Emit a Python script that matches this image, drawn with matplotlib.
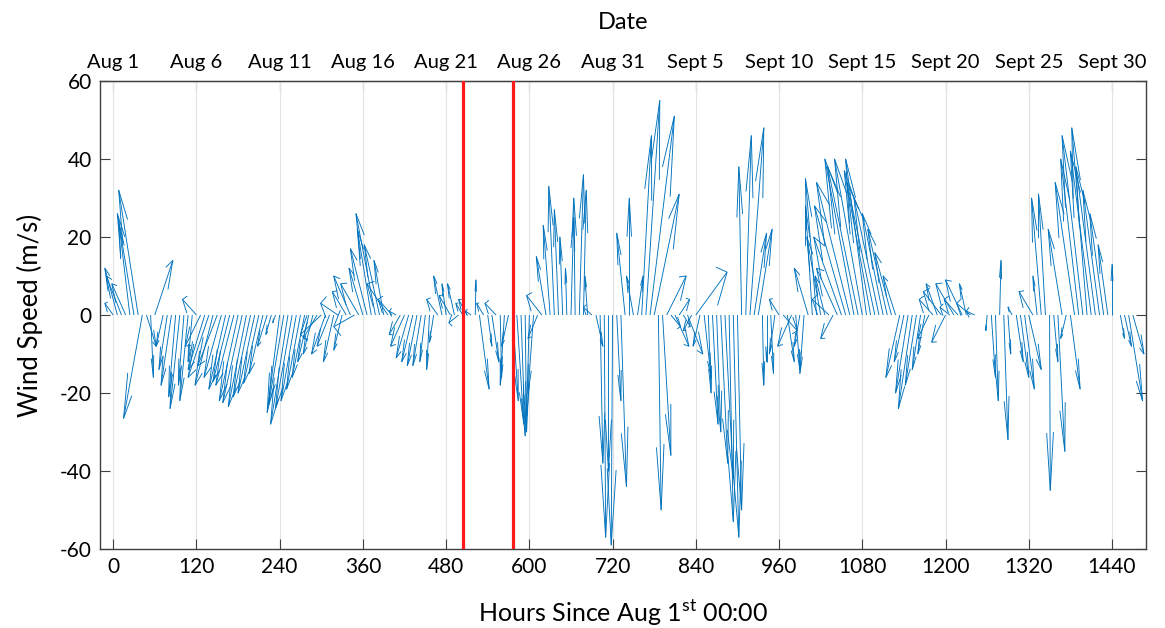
import numpy as np
import matplotlib
matplotlib.use("Agg")
import matplotlib.pyplot as plt
from matplotlib.collections import LineCollection

plt.rcParams['font.family'] = ['Lato', 'DejaVu Sans']
plt.rcParams['mathtext.fontset'] = 'custom'
plt.rcParams['mathtext.rm'] = 'Lato'
plt.rcParams['axes.unicode_minus'] = False

nan = np.nan

# wind observations every 6 hours since Aug 1 00:00
hours = np.arange(0, 1488, 6)

# u component (drawn as an hour offset) and v component (m/s)
u = [-12, -18, -22, -20, -16, -24, -28, -27, 14, 4,
     26, nan, -10, -12, -15, -10, -14, -8, -12, -6,
     -20, -22, -24, -30, -26, -28, -25, -24, -24, -26,
     -27, -28, -26, -25, -24, -22, -20, -14, -8, -4,
     -18, -22, -25, -24, -22, -20, -18, -16, -14, -20,
     -30, -20, -18, -15, -25, -12, -20, -24, -30, -26,
     -20, -24, -20, -28, -22, -14, -30, -20, -10, -16,
     -20, -18, -16, -14, -12, -8, -4, -6, -16, -12,
     -6, -16, -10, -14, -10, -12, -8, 1, 14, -10,
     6, 10, -16, 2, -6, -10, 8, 10, 6, 2,
     -4, -8, -14, -22, -14, -10, -8, -6, -4, -2,
     4, -2, 6, 4, -4, -12, 10, 4, 2, 0,
     -2, 6, 8, -12, 0, -10, 8, 14, 20, 35,
     36, 4, 12, 28, 14, 20, 15, 10, 22, -12,
     45, -10, 10, 4, 8, 6, 10, 12, 6, 8,
     6, -4, 8, 20, 18, 20, 2, 0, 4, -8,
     -14, 20, 10, -20, 6, -8, -6, -20, -10, -16,
     -20, -14, -24, -18, -30, -40, -45, -48, -42, -44,
     -40, -30, -38, -40, -36, -30, -28, -24, -18, -20,
     -14, -18, -20, -16, -12, -10, -16, -20, -16, -26,
     -20, -14, -26, -20, -24, -10, -20, -12, nan, nan,
     -2, 6, 4, 2, 6, 4, -6, 10, 12, 14,
     18, -20, -6, -14, -10, 1, 6, 10, -20, -8,
     14, -28, -26, -30, -22, -30, -28, -24, -20, -14,
     0, nan, 6, 10, 20, 16, nan, nan]

v = [3, 12, 10, 8, 24, 26, 32, -26.5, -8, -16,
     14, nan, -8, -14, -18, -21, -24, -18, -22, -12,
     4, -8, -14, -16, -18, -13, -16, -19, -17, -18,
     -22, -22.5, -23.5, -21, -20, -17.5, -15, -8, -5, -2,
     -25, -23, -28, -24, -22, -19, -16, -12, -10, -6,
     -5, -10, -8, -12, 3, -9, 6, 10, -3, 8,
     12, 17, 22, 26, 18, 14, 8, 4, 1, -5,
     -8, -11, -12, -13, -13, -12, -14, -7, 4, 10,
     8, 5, 8, -2, 3, 4, 1, 9, -19, 3,
     -8, -12, 3, -16, -18, -8, -22, -28, -31, -30,
     -26, -20, -6, 5, 15, 23, 33, 27, 20, 12,
     25, 30, 36, 32, 10, 2, -8, -38, -57, -40,
     -59, -22, -44, 21, 30, 10, 10, 46, 55, 51,
     31, -50, -36, 10, -3, -8, 4, -3, -10, -4,
     11, -8, -16, -20, -28, -30, -38, -42, -53, -57,
     -50, 38, 46, 48, 21, 22, -18, -12, -15, -10,
     4, -4, -12, -8, -14, -8, -15, 12, 28, 35,
     20, 10, 4, -6, 12, 20, 28, 34, 40, 38,
     40, 40, 37, 34, 30, 26, 22, 16, 10, -16,
     -12, -20, -24, -18, -14, -10, -6, 4, 8, 6,
     -7, 2, 8, 4, 9, 8, 3, 1, nan, nan,
     -4, -16, -22, 14, -32, -10, 2, -12, -16, -19,
     -14, 6, 10, 30, 31, -45, -12, -35, 22, -6,
     -19, 34, 40, 46, 48, 42, 38, 32, 26, 18,
     13, nan, -6, -8, -22, -10, nan, nan]

u = np.array(u, dtype=float)
v = np.array(v, dtype=float)

# event window (red lines)
event_hours = [504, 576]

tick_hours = np.arange(0, 1441, 120)
date_labels = ['Aug 1', 'Aug 6', 'Aug 11', 'Aug 16', 'Aug 21', 'Aug 26', 'Aug 31',
               'Sept 5', 'Sept 10', 'Sept 15', 'Sept 20', 'Sept 25', 'Sept 30']

fig = plt.figure(figsize=(11.65, 6.28), dpi=100)
ax = fig.add_axes([100 / 1165, 1 - 549 / 628, 1046 / 1165, 468 / 628])

ax.set_xlim(-19, 1489)
ax.set_ylim(-60, 60)
ax.set_xticks(tick_hours)
ax.set_yticks(np.arange(-60, 61, 20))
ax.grid(axis='x', color='#e3e3e3', lw=0.8)
ax.set_axisbelow(True)

# stick plot, arrowheads built the way MATLAB's quiver does (alpha = beta = 0.33)
ok = ~np.isnan(u)
x0, uu, vv = hours[ok], u[ok], v[ok]
tx, ty = x0 + uu, vv
a, b = 0.33, 0.33
segs = []
for i in range(len(x0)):
    segs.append([(x0[i], 0), (tx[i], ty[i])])
    h1 = (tx[i] - a * (uu[i] + b * vv[i]), ty[i] - a * (vv[i] - b * uu[i]))
    h2 = (tx[i] - a * (uu[i] - b * vv[i]), ty[i] - a * (vv[i] + b * uu[i]))
    segs.append([h1, (tx[i], ty[i]), h2])
ax.add_collection(LineCollection(segs, colors='#0072BD', linewidths=0.65, zorder=2))

for h in event_hours:
    ax.axvline(h, color='#ff1a1a', lw=2.3, zorder=3)

for s in ax.spines.values():
    s.set_color('#404040')
    s.set_linewidth(1.0)
ax.tick_params(direction='in', length=7, width=0.8, color='#404040',
               labelsize=15, right=True, top=False, pad=6)

top = ax.secondary_xaxis('top')
top.set_xticks(tick_hours)
top.set_xticklabels(date_labels)
top.tick_params(direction='in', length=7, width=0.8, color='#404040',
                labelsize=14.5, pad=7)
top.set_xlabel('Date', fontsize=17, labelpad=18)

ax.set_xlabel(r'Hours Since Aug 1$^{\mathrm{st}}$ 00:00', fontsize=18, labelpad=15)
ax.set_ylabel('Wind Speed (m/s)', fontsize=18.5, labelpad=12)

fig.savefig('out.png', dpi=100)
